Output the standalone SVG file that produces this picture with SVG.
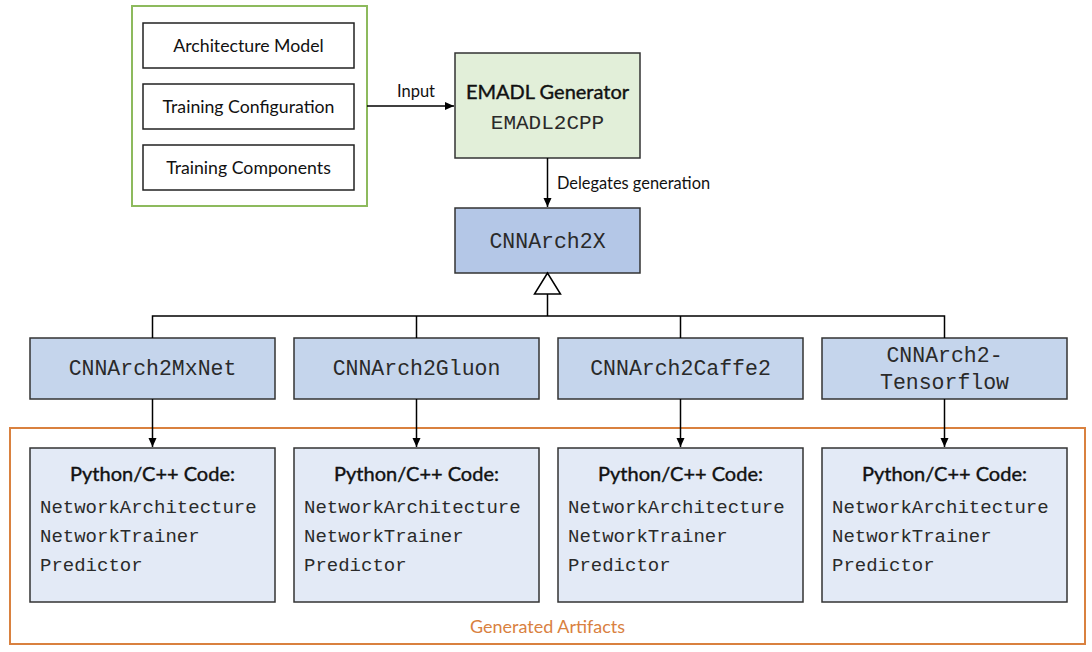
<svg xmlns="http://www.w3.org/2000/svg" width="1092" height="652" viewBox="0 0 1092 652">
<defs>
<marker id="arr" markerWidth="10" markerHeight="10" refX="9" refY="5" orient="auto" markerUnits="userSpaceOnUse">
<path d="M0,1 L9,5 L0,9 Z" fill="#000"/>
</marker>
<style>
.box{stroke:#333;stroke-width:1.5}
.in{fill:#fff;stroke:#222;stroke-width:1.5}
.lvl{fill:#C5D5EC}
.art{fill:#E3EAF6}
.sans{font-family:Lato,"Open Sans",sans-serif;fill:#111}
.head{font-family:Lato,"Open Sans",sans-serif;fill:#111;stroke:#111;stroke-width:0.4;font-size:20px}
.mono{font-family:"Liberation Mono","Courier New",monospace;fill:#2a2a2a}
.ln{stroke:#000;stroke-width:1.5;fill:none}
</style>
</defs>
<rect width="1092" height="652" fill="#fff"/>

<g id="inputs">
<rect x="132" y="6" width="235" height="200" fill="none" stroke="#8DBA5D" stroke-width="2"/>
<rect class="in" x="143" y="23" width="211" height="45"/>
<text class="sans" x="248.5" y="52" font-size="17.7" text-anchor="middle">Architecture Model</text>
<rect class="in" x="143" y="84" width="211" height="45"/>
<text class="sans" x="248.5" y="113" font-size="17.7" text-anchor="middle">Training Configuration</text>
<rect class="in" x="143" y="145" width="211" height="45"/>
<text class="sans" x="248.5" y="174" font-size="17.7" text-anchor="middle">Training Components</text>
</g>

<g id="emadl">
<rect class="box" x="455" y="53" width="185" height="105" fill="#E2EFD9"/>
<text class="head" x="547.5" y="99" text-anchor="middle">EMADL Generator</text>
<text class="mono" x="547.5" y="129" font-size="21" text-anchor="middle">EMADL2CPP</text>
</g>

<g id="cnnarch2x">
<rect class="box" x="455" y="208" width="185" height="65" fill="#B4C7E7"/>
<text class="mono" x="547.5" y="248" font-size="21.5" text-anchor="middle">CNNArch2X</text>
</g>

<g id="mxnet">
<rect class="box lvl" x="30" y="338" width="245" height="61"/>
<text class="mono" x="152.5" y="375" font-size="21.5" text-anchor="middle">CNNArch2MxNet</text>
</g>
<g id="gluon">
<rect class="box lvl" x="294" y="338" width="245" height="61"/>
<text class="mono" x="416.5" y="375" font-size="21.5" text-anchor="middle">CNNArch2Gluon</text>
</g>
<g id="caffe2">
<rect class="box lvl" x="558" y="338" width="245" height="61"/>
<text class="mono" x="680.5" y="375" font-size="21.5" text-anchor="middle">CNNArch2Caffe2</text>
</g>
<g id="tensorflow">
<rect class="box lvl" x="822" y="338" width="245" height="61"/>
<text class="mono" x="944.5" y="362" font-size="21.5" text-anchor="middle">CNNArch2-</text>
<text class="mono" x="944.5" y="389" font-size="21.5" text-anchor="middle">Tensorflow</text>
</g>

<g id="artifacts">
<rect x="10" y="428" width="1075" height="216" fill="none" stroke="#D9813F" stroke-width="2"/>
<text x="547.5" y="633" font-family="Lato,'Open Sans',sans-serif" font-size="18" fill="#D9813F" text-anchor="middle">Generated Artifacts</text>
</g>

<g id="art-mxnet">
<rect class="box art" x="30" y="448" width="245" height="154"/>
<text class="head" x="152.5" y="481" text-anchor="middle">Python/C++ Code:</text>
<text class="mono" x="40" y="513" font-size="19">NetworkArchitecture</text>
<text class="mono" x="40" y="542" font-size="19">NetworkTrainer</text>
<text class="mono" x="40" y="571" font-size="19">Predictor</text>
</g>
<g id="art-gluon">
<rect class="box art" x="294" y="448" width="245" height="154"/>
<text class="head" x="416.5" y="481" text-anchor="middle">Python/C++ Code:</text>
<text class="mono" x="304" y="513" font-size="19">NetworkArchitecture</text>
<text class="mono" x="304" y="542" font-size="19">NetworkTrainer</text>
<text class="mono" x="304" y="571" font-size="19">Predictor</text>
</g>
<g id="art-caffe2">
<rect class="box art" x="558" y="448" width="245" height="154"/>
<text class="head" x="680.5" y="481" text-anchor="middle">Python/C++ Code:</text>
<text class="mono" x="568" y="513" font-size="19">NetworkArchitecture</text>
<text class="mono" x="568" y="542" font-size="19">NetworkTrainer</text>
<text class="mono" x="568" y="571" font-size="19">Predictor</text>
</g>
<g id="art-tensorflow">
<rect class="box art" x="822" y="448" width="245" height="154"/>
<text class="head" x="944.5" y="481" text-anchor="middle">Python/C++ Code:</text>
<text class="mono" x="832" y="513" font-size="19">NetworkArchitecture</text>
<text class="mono" x="832" y="542" font-size="19">NetworkTrainer</text>
<text class="mono" x="832" y="571" font-size="19">Predictor</text>
</g>

<g id="connectors">
<line class="ln" x1="367" y1="106" x2="454" y2="106" marker-end="url(#arr)"/>
<text class="sans" x="416" y="97" font-size="16.5" text-anchor="middle">Input</text>
<line class="ln" x1="547.5" y1="158" x2="547.5" y2="207" marker-end="url(#arr)"/>
<text class="sans" x="557" y="189" font-size="16.4">Delegates generation</text>
<path class="ln" d="M547.5,294 V316 M152.5,338 V316 H944.5 V338 M416.5,316 V338 M680.5,316 V338"/>
<path d="M547.5,273 L534.5,294 L560.5,294 Z" fill="#fff" stroke="#000" stroke-width="1.5"/>
<line class="ln" x1="152.5" y1="399" x2="152.5" y2="447" marker-end="url(#arr)"/>
<line class="ln" x1="416.5" y1="399" x2="416.5" y2="447" marker-end="url(#arr)"/>
<line class="ln" x1="680.5" y1="399" x2="680.5" y2="447" marker-end="url(#arr)"/>
<line class="ln" x1="944.5" y1="399" x2="944.5" y2="447" marker-end="url(#arr)"/>
</g>
</svg>
